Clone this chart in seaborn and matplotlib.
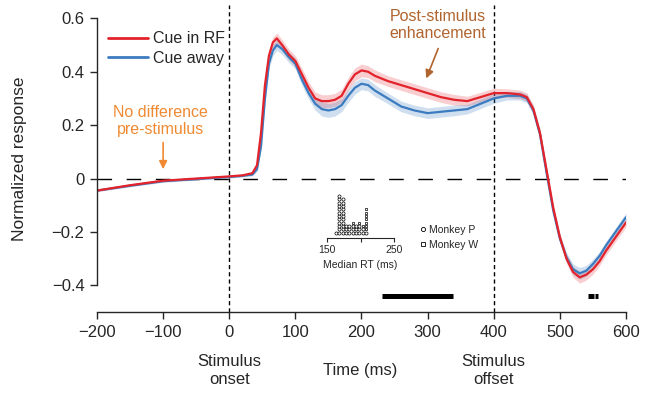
import numpy as np
import pandas as pd
import matplotlib
matplotlib.use("Agg")
import matplotlib.pyplot as plt
from matplotlib.lines import Line2D
import seaborn as sns

# time axis (ms) and normalized responses
time_ms = [-200, -150, -100, -50, 0, 20, 35, 42, 48, 54, 60, 66, 72, 80, 90, 100, 110, 120,
           130, 140, 150, 160, 170, 180, 190, 200, 210, 220, 240, 260, 280, 300, 320, 340,
           360, 380, 400, 420, 440, 450, 460, 470, 480, 490, 500, 510, 520, 530, 540, 550,
           560, 570, 580, 590, 600]
cue_in_rf = [-0.045, -0.025, -0.008, 0.000, 0.008, 0.012, 0.02, 0.05, 0.17, 0.35, 0.46, 0.51,
             0.525, 0.50, 0.465, 0.44, 0.39, 0.34, 0.30, 0.29, 0.29, 0.295, 0.31, 0.355, 0.39,
             0.405, 0.40, 0.385, 0.365, 0.35, 0.335, 0.32, 0.305, 0.295, 0.29, 0.305, 0.32,
             0.32, 0.315, 0.305, 0.26, 0.17, 0.03, -0.11, -0.22, -0.30, -0.35, -0.37, -0.36,
             -0.34, -0.31, -0.27, -0.235, -0.20, -0.165]
cue_away = [-0.045, -0.027, -0.01, -0.002, 0.006, 0.01, 0.015, 0.035, 0.12, 0.30, 0.43, 0.48,
            0.50, 0.485, 0.455, 0.43, 0.37, 0.32, 0.28, 0.26, 0.255, 0.26, 0.275, 0.31, 0.34,
            0.355, 0.35, 0.33, 0.30, 0.27, 0.255, 0.245, 0.25, 0.255, 0.26, 0.28, 0.30,
            0.31, 0.31, 0.30, 0.255, 0.165, 0.02, -0.12, -0.225, -0.295, -0.34, -0.355, -0.345,
            -0.32, -0.29, -0.25, -0.215, -0.18, -0.145]
sem_rf = [0.004, 0.004, 0.004, 0.004, 0.004, 0.004, 0.005, 0.008, 0.012, 0.016, 0.02, 0.02,
          0.02, 0.02, 0.02, 0.02, 0.022, 0.022, 0.024, 0.024, 0.024, 0.024, 0.024, 0.024,
          0.024, 0.024, 0.022, 0.022, 0.02, 0.02, 0.02, 0.02, 0.02, 0.02, 0.018, 0.018, 0.018,
          0.016, 0.016, 0.016, 0.016, 0.016, 0.016, 0.016, 0.016, 0.018, 0.02, 0.022, 0.02,
          0.018, 0.016, 0.016, 0.016, 0.016, 0.016]
sem_away = [0.004, 0.004, 0.004, 0.004, 0.004, 0.004, 0.005, 0.008, 0.012, 0.016, 0.02, 0.02,
            0.02, 0.02, 0.02, 0.02, 0.022, 0.022, 0.024, 0.026, 0.026, 0.026, 0.024, 0.024,
            0.024, 0.022, 0.022, 0.022, 0.02, 0.02, 0.02, 0.02, 0.02, 0.02, 0.018, 0.018, 0.018,
            0.016, 0.016, 0.016, 0.016, 0.016, 0.016, 0.016, 0.016, 0.018, 0.02, 0.022, 0.02,
            0.018, 0.016, 0.016, 0.016, 0.016, 0.016]

# significance bars (ms)
sig_start = [231, 543, 553]
sig_end = [338, 551, 557]

# inset: median RT histogram (5 ms bins)
rt_bins = [163, 168, 173, 178, 183, 188, 193, 198, 203, 208]
count_p = [1, 12, 11, 3, 3, 3, 3, 3, 2, 1]
count_w = [0, 0, 0, 0, 0, 1, 0, 1, 1, 7]

red = "#e3232b"
blue = "#3b7bbf"
orange = "#f08a32"
brown = "#b0642e"

sns.set_style("ticks")
plt.rcParams['font.family'] = ['Liberation Sans', 'DejaVu Sans']
plt.rcParams['axes.linewidth'] = 1.0

df = pd.DataFrame({
    "time": time_ms + time_ms,
    "resp": cue_in_rf + cue_away,
    "cond": ["Cue in RF"] * len(time_ms) + ["Cue away"] * len(time_ms),
})

fig = plt.figure(figsize=(6.45, 3.97), dpi=100)
ax = fig.add_axes([0.1504, 0.214, 0.8201, 0.7734])

t = np.array(time_ms)
ax.fill_between(t, np.array(cue_in_rf) - sem_rf, np.array(cue_in_rf) + sem_rf,
                color=red, alpha=0.22, lw=0)
ax.fill_between(t, np.array(cue_away) - sem_away, np.array(cue_away) + sem_away,
                color=blue, alpha=0.24, lw=0)
sns.lineplot(data=df, x="time", y="resp", hue="cond", palette={"Cue in RF": red, "Cue away": blue},
             hue_order=["Cue away", "Cue in RF"], lw=1.6, legend=False, ax=ax)

ax.axhline(0, color="black", lw=1.0, dashes=(10.5, 10.5), zorder=0)
for xv in [0, 400]:
    ax.axvline(xv, color="black", lw=1.0, dashes=(3, 2.2), zorder=0)

ax.hlines([-0.44] * len(sig_start), sig_start, sig_end, color="black", lw=3.6)

ax.set_xlim(-200, 600)
ax.set_ylim(-0.5, 0.65)
ax.set_xticks(range(-200, 601, 100))
ax.set_xticklabels(["\u2212200", "\u2212100", "0", "100", "200", "300", "400", "500", "600"])
ax.set_yticks([-0.4, -0.2, 0, 0.2, 0.4, 0.6])
ax.set_yticklabels(["\u22120.4", "\u22120.2", "0", "0.2", "0.4", "0.6"])
ax.tick_params(direction="out", length=5, width=1, labelsize=12, pad=4)
sns.despine(ax=ax)
ax.spines["left"].set_bounds(-0.4, 0.6)
ax.spines["bottom"].set_bounds(-200, 600)
ax.set_xlabel("")
ax.set_ylabel("Normalized response", fontsize=12.5)
ax.yaxis.set_label_coords(-0.133, 0.5)

trans = ax.get_xaxis_transform()
ax.text(0, -0.19, "Stimulus\nonset", transform=trans, ha="center", va="center", fontsize=12)
ax.text(400, -0.19, "Stimulus\noffset", transform=trans, ha="center", va="center", fontsize=12)
ax.text(198, -0.19, "Time (ms)", transform=trans, ha="center", va="center", fontsize=12)

ax.text(-104, 0.215, "No difference\npre-stimulus", ha="center", va="center", color=orange,
        fontsize=11.5)
ax.annotate("", xy=(-100, 0.035), xytext=(-100, 0.135),
            arrowprops=dict(arrowstyle="-|>", color=orange, lw=1.2, mutation_scale=12,
                            shrinkA=0, shrinkB=0))
ax.text(316, 0.575, "Post-stimulus\nenhancement", ha="center", va="center", color=brown,
        fontsize=11.5)
ax.annotate("", xy=(298, 0.375), xytext=(316, 0.487),
            arrowprops=dict(arrowstyle="-|>", color=brown, lw=1.2, mutation_scale=12,
                            shrinkA=0, shrinkB=0))

handles = [Line2D([], [], color=red, lw=2), Line2D([], [], color=blue, lw=2)]
ax.legend(handles, ["Cue in RF", "Cue away"], loc="upper left", bbox_to_anchor=(0.02, 0.915),
          frameon=False, fontsize=11.5, handlelength=2.5, handletextpad=0.35, labelspacing=0.3,
          borderpad=0, borderaxespad=0)

# inset histogram
ins = fig.add_axes([327.3 / 645, 1 - 237.7 / 397, 66.7 / 645, 50 / 397])
px, py, wx, wy = [], [], [], []
for b, n_p, n_w in zip(rt_bins, count_p, count_w):
    for k in range(n_p):
        px.append(b)
        py.append(1.5 + k)
    for k in range(n_w):
        wx.append(b)
        wy.append(1.5 + n_p + k)
ins.scatter(px, py, marker="o", s=5, facecolor="white", edgecolor="black", lw=0.5, clip_on=False)
ins.scatter(wx, wy, marker="s", s=4, facecolor="white", edgecolor="black", lw=0.5, clip_on=False)
ins.set_xlim(150, 250)
ins.set_ylim(0, 15)
ins.set_xticks([150, 200, 250])
ins.set_xticklabels(["150", "", "250"])
ins.set_yticks([])
ins.patch.set_visible(False)
for s in ["left", "top", "right"]:
    ins.spines[s].set_visible(False)
ins.spines["bottom"].set_linewidth(0.8)
ins.tick_params(axis="x", direction="out", length=3, width=0.8, labelsize=7.5, pad=2)
ins.set_xlabel("Median RT (ms)", fontsize=7.5, labelpad=4)

mh = [Line2D([], [], ls="", marker="o", ms=3, mfc="white", mec="black", mew=0.6),
      Line2D([], [], ls="", marker="s", ms=3, mfc="white", mec="black", mew=0.6)]
fig.legend(mh, ["Monkey P", "Monkey W"], loc="upper left", bbox_to_anchor=(420 / 645, 1 - 225 / 397),
           frameon=False, fontsize=7.5, handlelength=0.6, handletextpad=0.3, labelspacing=0.45,
           borderpad=0, borderaxespad=0)

fig.savefig("out.png", dpi=100)
